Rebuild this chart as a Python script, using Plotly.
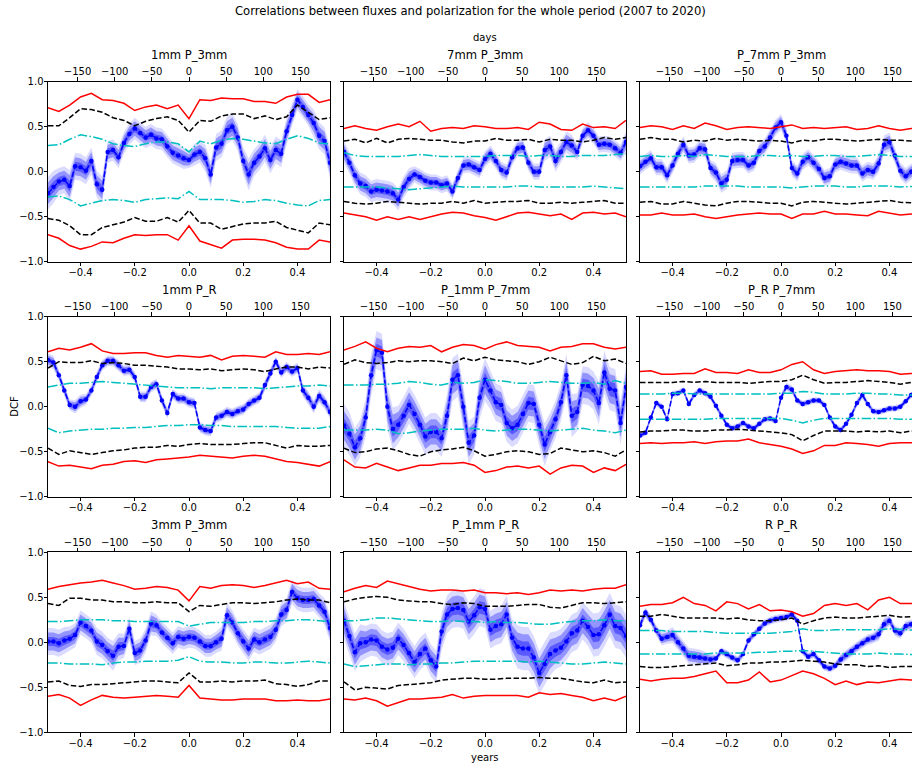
import plotly.graph_objects as go

# panel titles (row by row)
titles = ['1mm P_3mm', '7mm P_3mm', 'P_7mm P_3mm',
          '1mm P_R', 'P_1mm P_7mm', 'P_R P_7mm',
          '3mm P_3mm', 'P_1mm P_R', 'R P_R']

# time lags in years
lags = [-0.52, -0.50, -0.48, -0.46, -0.44, -0.42, -0.40, -0.38, -0.36, -0.34,
        -0.32, -0.30, -0.28, -0.26, -0.24, -0.22, -0.20, -0.18, -0.16, -0.14,
        -0.12, -0.10, -0.08, -0.06, -0.04, -0.02, 0.00, 0.02, 0.04, 0.06,
        0.08, 0.10, 0.12, 0.14, 0.16, 0.18, 0.20, 0.22, 0.24, 0.26,
        0.28, 0.30, 0.32, 0.34, 0.36, 0.38, 0.40, 0.42, 0.44, 0.46,
        0.48, 0.50, 0.52]
sig_lags = [-0.52, -0.48, -0.44, -0.40, -0.36, -0.32, -0.28, -0.24, -0.20, -0.16,
            -0.12, -0.08, -0.04, 0.00, 0.04, 0.08, 0.12, 0.16, 0.20, 0.24,
            0.28, 0.32, 0.36, 0.40, 0.44, 0.48, 0.52]

# ---- 1mm P_3mm
p1_dcf = [-0.24, -0.17, -0.11, -0.09, -0.16, 0.06, 0.05, 0.01, 0.12, -0.14,
          -0.20, 0.22, 0.24, 0.16, 0.32, 0.42, 0.48, 0.43, 0.38, 0.41,
          0.37, 0.36, 0.28, 0.21, 0.18, 0.15, 0.13, 0.19, 0.22, 0.15,
          -0.03, 0.27, 0.31, 0.46, 0.50, 0.38, 0.12, -0.03, 0.10, 0.17,
          0.26, 0.13, 0.24, 0.20, 0.45, 0.63, 0.80, 0.72, 0.63, 0.54,
          0.40, 0.34, 0.10]
p1_err = [0.06, 0.06, 0.05, 0.05, 0.06, 0.05, 0.05, 0.05, 0.05, 0.05,
          0.05, 0.04, 0.04, 0.04, 0.04, 0.04, 0.04, 0.04, 0.04, 0.04,
          0.04, 0.04, 0.04, 0.04, 0.04, 0.04, 0.03, 0.04, 0.04, 0.05,
          0.05, 0.05, 0.05, 0.05, 0.05, 0.05, 0.05, 0.06, 0.05, 0.05,
          0.05, 0.05, 0.05, 0.05, 0.05, 0.04, 0.04, 0.04, 0.04, 0.05,
          0.05, 0.05, 0.06]
p1_red_hi = [0.71, 0.67, 0.74, 0.83, 0.87, 0.80, 0.79, 0.76, 0.68, 0.72, 0.74, 0.70, 0.74, 0.59,
             0.80, 0.79, 0.82, 0.81, 0.81, 0.78, 0.78, 0.76, 0.83, 0.86, 0.86, 0.77, 0.80]
p1_blk_hi = [0.51, 0.51, 0.60, 0.70, 0.69, 0.66, 0.60, 0.57, 0.51, 0.56, 0.59, 0.61, 0.57, 0.44,
             0.57, 0.56, 0.62, 0.64, 0.64, 0.59, 0.62, 0.58, 0.61, 0.74, 0.66, 0.58, 0.60]
p1_cyn_hi = [0.29, 0.30, 0.36, 0.41, 0.39, 0.36, 0.31, 0.29, 0.28, 0.31, 0.33, 0.33, 0.31, 0.22,
             0.34, 0.31, 0.35, 0.37, 0.36, 0.34, 0.32, 0.31, 0.36, 0.40, 0.37, 0.32, 0.31]
p1_cyn_lo = [-0.28, -0.27, -0.31, -0.38, -0.35, -0.32, -0.31, -0.32, -0.34, -0.31, -0.30, -0.29, -0.30, -0.22,
             -0.31, -0.31, -0.31, -0.32, -0.34, -0.33, -0.31, -0.32, -0.35, -0.37, -0.38, -0.32, -0.31]
p1_blk_lo = [-0.52, -0.54, -0.60, -0.70, -0.70, -0.62, -0.59, -0.56, -0.51, -0.55, -0.55, -0.51, -0.56, -0.43,
             -0.57, -0.57, -0.64, -0.61, -0.58, -0.57, -0.57, -0.55, -0.62, -0.65, -0.68, -0.57, -0.59]
p1_red_lo = [-0.70, -0.74, -0.82, -0.86, -0.83, -0.78, -0.79, -0.74, -0.70, -0.71, -0.70, -0.70, -0.76, -0.60,
             -0.77, -0.81, -0.85, -0.76, -0.75, -0.75, -0.76, -0.79, -0.84, -0.86, -0.86, -0.76, -0.78]

# ---- 7mm P_3mm
p2_dcf = [0.22, 0.10, -0.04, -0.13, -0.16, -0.22, -0.20, -0.21, -0.22, -0.24,
          -0.31, -0.17, -0.08, -0.03, -0.06, -0.10, -0.12, -0.12, -0.15, -0.13,
          -0.22, -0.07, 0.07, 0.08, 0.05, 0.02, 0.14, 0.20, 0.12, 0.02,
          -0.01, 0.16, 0.26, 0.27, 0.10, 0.00, 0.00, 0.24, 0.28, 0.12,
          0.22, 0.33, 0.29, 0.22, 0.40, 0.46, 0.40, 0.30, 0.31, 0.30,
          0.26, 0.21, 0.33]
p2_err = [0.04, 0.04, 0.04, 0.04, 0.04, 0.04, 0.04, 0.04, 0.04, 0.04,
          0.04, 0.04, 0.04, 0.03, 0.03, 0.03, 0.03, 0.03, 0.03, 0.03,
          0.03, 0.03, 0.03, 0.03, 0.03, 0.03, 0.03, 0.03, 0.03, 0.03,
          0.03, 0.03, 0.03, 0.03, 0.03, 0.03, 0.03, 0.04, 0.04, 0.04,
          0.04, 0.04, 0.04, 0.03, 0.03, 0.03, 0.03, 0.03, 0.03, 0.03,
          0.03, 0.03, 0.04]
p2_red_hi = [0.48, 0.51, 0.48, 0.46, 0.50, 0.53, 0.50, 0.56, 0.45, 0.48, 0.49, 0.48, 0.51, 0.50,
             0.48, 0.48, 0.49, 0.47, 0.55, 0.53, 0.47, 0.46, 0.53, 0.49, 0.50, 0.48, 0.57]
p2_blk_hi = [0.34, 0.36, 0.32, 0.37, 0.32, 0.36, 0.37, 0.36, 0.35, 0.35, 0.33, 0.32, 0.34, 0.34,
             0.37, 0.35, 0.35, 0.36, 0.33, 0.36, 0.35, 0.35, 0.33, 0.35, 0.38, 0.36, 0.38]
p2_cyn_hi = [0.21, 0.18, 0.17, 0.17, 0.17, 0.17, 0.18, 0.19, 0.18, 0.17, 0.17, 0.17, 0.17, 0.17,
             0.18, 0.18, 0.18, 0.17, 0.18, 0.18, 0.17, 0.17, 0.18, 0.18, 0.18, 0.19, 0.20]
p2_cyn_lo = [-0.17, -0.17, -0.17, -0.17, -0.18, -0.19, -0.20, -0.19, -0.18, -0.17, -0.16, -0.17, -0.17, -0.17,
             -0.17, -0.17, -0.16, -0.16, -0.17, -0.17, -0.17, -0.17, -0.17, -0.16, -0.17, -0.18, -0.19]
p2_blk_lo = [-0.33, -0.35, -0.36, -0.35, -0.33, -0.34, -0.35, -0.36, -0.35, -0.35, -0.33, -0.35, -0.32, -0.35,
             -0.34, -0.33, -0.33, -0.32, -0.35, -0.35, -0.34, -0.35, -0.34, -0.33, -0.32, -0.35, -0.35]
p2_red_lo = [-0.46, -0.48, -0.50, -0.54, -0.50, -0.53, -0.50, -0.53, -0.50, -0.47, -0.45, -0.46, -0.49, -0.51,
             -0.54, -0.50, -0.46, -0.45, -0.47, -0.49, -0.47, -0.53, -0.46, -0.45, -0.47, -0.46, -0.50]

# ---- P_7mm P_3mm
p3_dcf = [0.06, 0.11, 0.15, 0.05, 0.05, -0.04, 0.07, 0.20, 0.30, 0.18,
          0.19, 0.26, 0.25, 0.04, -0.01, -0.13, -0.09, 0.12, 0.13, 0.13,
          0.07, 0.10, 0.23, 0.28, 0.38, 0.49, 0.55, 0.40, 0.04, -0.02,
          0.11, 0.16, 0.10, 0.03, -0.07, -0.05, 0.08, 0.11, 0.09, 0.07,
          0.07, -0.02, 0.02, 0.00, 0.09, 0.30, 0.33, 0.18, 0.01, -0.05,
          0.00, 0.02, 0.05]
p3_err = [0.03, 0.03, 0.03, 0.03, 0.03, 0.03, 0.03, 0.03, 0.03, 0.03,
          0.03, 0.03, 0.03, 0.03, 0.035, 0.035, 0.035, 0.03, 0.03, 0.03,
          0.03, 0.03, 0.03, 0.03, 0.03, 0.03, 0.03, 0.03, 0.03, 0.03,
          0.03, 0.03, 0.03, 0.03, 0.03, 0.03, 0.03, 0.03, 0.03, 0.03,
          0.03, 0.03, 0.03, 0.03, 0.035, 0.035, 0.035, 0.03, 0.03, 0.03,
          0.03, 0.03, 0.03]
p3_red_hi = [0.49, 0.51, 0.50, 0.47, 0.51, 0.48, 0.54, 0.51, 0.47, 0.49, 0.50, 0.49, 0.48, 0.50,
             0.52, 0.48, 0.49, 0.48, 0.49, 0.50, 0.47, 0.48, 0.51, 0.48, 0.46, 0.48, 0.48]
p3_blk_hi = [0.36, 0.38, 0.36, 0.36, 0.33, 0.35, 0.34, 0.37, 0.35, 0.36, 0.35, 0.34, 0.35, 0.34,
             0.32, 0.35, 0.34, 0.36, 0.36, 0.35, 0.34, 0.35, 0.36, 0.35, 0.35, 0.34, 0.34]
p3_cyn_hi = [0.17, 0.18, 0.17, 0.17, 0.18, 0.17, 0.19, 0.18, 0.17, 0.17, 0.17, 0.18, 0.18, 0.17,
             0.18, 0.17, 0.17, 0.18, 0.18, 0.17, 0.17, 0.18, 0.19, 0.18, 0.17, 0.17, 0.17]
p3_cyn_lo = [-0.17, -0.17, -0.17, -0.17, -0.17, -0.17, -0.16, -0.16, -0.16, -0.16, -0.17, -0.17, -0.17, -0.17,
             -0.18, -0.17, -0.16, -0.16, -0.16, -0.17, -0.17, -0.16, -0.16, -0.16, -0.17, -0.16, -0.16]
p3_blk_lo = [-0.34, -0.33, -0.36, -0.36, -0.33, -0.35, -0.37, -0.38, -0.35, -0.33, -0.33, -0.34, -0.35, -0.35,
             -0.38, -0.34, -0.33, -0.34, -0.35, -0.36, -0.35, -0.34, -0.33, -0.32, -0.34, -0.35, -0.35]
p3_red_lo = [-0.48, -0.48, -0.46, -0.48, -0.48, -0.47, -0.50, -0.52, -0.50, -0.48, -0.47, -0.46, -0.47, -0.47,
             -0.52, -0.47, -0.47, -0.44, -0.47, -0.47, -0.48, -0.49, -0.44, -0.46, -0.48, -0.47, -0.48]

# ---- 1mm P_R
p4_dcf = [0.52, 0.49, 0.35, 0.18, 0.02, 0.00, 0.06, 0.08, 0.18, 0.33,
          0.46, 0.51, 0.51, 0.46, 0.40, 0.41, 0.33, 0.11, 0.11, 0.22,
          0.25, 0.07, -0.07, 0.14, 0.09, 0.09, 0.05, 0.04, -0.23, -0.26,
          -0.27, -0.12, -0.10, -0.06, -0.08, -0.05, -0.03, 0.03, 0.07, 0.10,
          0.24, 0.37, 0.50, 0.38, 0.44, 0.39, 0.43, 0.18, 0.10, 0.00,
          0.12, 0.05, -0.06]
p4_err = [0.025, 0.025, 0.02, 0.02, 0.02, 0.025, 0.025, 0.02, 0.02, 0.02,
          0.02, 0.02, 0.02, 0.02, 0.02, 0.02, 0.02, 0.02, 0.02, 0.02,
          0.02, 0.02, 0.02, 0.02, 0.02, 0.02, 0.02, 0.02, 0.02, 0.02,
          0.02, 0.02, 0.02, 0.02, 0.02, 0.02, 0.02, 0.02, 0.02, 0.02,
          0.02, 0.02, 0.02, 0.02, 0.02, 0.02, 0.02, 0.025, 0.025, 0.025,
          0.025, 0.025, 0.025]
p4_red_hi = [0.61, 0.65, 0.63, 0.66, 0.70, 0.62, 0.59, 0.59, 0.60, 0.60, 0.57, 0.55, 0.57, 0.56,
             0.55, 0.57, 0.52, 0.56, 0.57, 0.56, 0.55, 0.61, 0.58, 0.58, 0.59, 0.58, 0.61]
p4_blk_hi = [0.43, 0.50, 0.49, 0.49, 0.51, 0.48, 0.49, 0.48, 0.46, 0.46, 0.45, 0.44, 0.42, 0.42,
             0.41, 0.42, 0.40, 0.41, 0.42, 0.41, 0.39, 0.42, 0.44, 0.44, 0.42, 0.44, 0.43]
p4_cyn_hi = [0.22, 0.24, 0.26, 0.26, 0.27, 0.28, 0.27, 0.26, 0.25, 0.24, 0.23, 0.22, 0.21, 0.21,
             0.21, 0.20, 0.21, 0.21, 0.21, 0.21, 0.20, 0.21, 0.22, 0.23, 0.23, 0.24, 0.23]
p4_cyn_lo = [-0.24, -0.29, -0.27, -0.26, -0.25, -0.25, -0.24, -0.24, -0.23, -0.23, -0.22, -0.21, -0.21, -0.20,
             -0.20, -0.21, -0.21, -0.22, -0.22, -0.22, -0.22, -0.22, -0.23, -0.24, -0.24, -0.24, -0.22]
p4_blk_lo = [-0.46, -0.53, -0.49, -0.51, -0.53, -0.51, -0.49, -0.48, -0.46, -0.45, -0.45, -0.43, -0.44, -0.42,
             -0.41, -0.42, -0.42, -0.42, -0.41, -0.40, -0.40, -0.43, -0.46, -0.43, -0.44, -0.44, -0.43]
p4_red_lo = [-0.61, -0.66, -0.65, -0.67, -0.69, -0.65, -0.64, -0.61, -0.60, -0.62, -0.59, -0.58, -0.57, -0.56,
             -0.54, -0.55, -0.56, -0.57, -0.55, -0.54, -0.55, -0.58, -0.61, -0.62, -0.64, -0.66, -0.61]

# ---- P_1mm P_7mm
p5_dcf = [-0.21, -0.30, -0.45, -0.35, -0.12, 0.35, 0.63, 0.60, 0.00, -0.25,
          -0.20, -0.10, 0.02, -0.08, -0.20, -0.33, -0.28, -0.28, -0.35, -0.10,
          0.30, 0.35, 0.00, -0.40, -0.32, 0.10, 0.30, 0.18, 0.05, 0.02,
          -0.18, -0.24, -0.20, -0.08, 0.04, 0.03, -0.20, -0.42, -0.28, -0.14,
          0.05, 0.35, -0.10, -0.06, 0.24, 0.23, 0.18, 0.04, 0.38, 0.20,
          0.18, -0.18, 0.22]
p5_err = [0.08, 0.08, 0.07, 0.07, 0.07, 0.08, 0.07, 0.07, 0.08, 0.08,
          0.07, 0.07, 0.07, 0.07, 0.07, 0.07, 0.07, 0.07, 0.07, 0.08,
          0.08, 0.08, 0.08, 0.08, 0.07, 0.08, 0.08, 0.07, 0.07, 0.07,
          0.07, 0.07, 0.07, 0.07, 0.07, 0.07, 0.08, 0.08, 0.07, 0.07,
          0.07, 0.08, 0.08, 0.07, 0.07, 0.07, 0.07, 0.08, 0.08, 0.08,
          0.08, 0.08, 0.08]
p5_red_hi = [0.63, 0.67, 0.72, 0.65, 0.61, 0.65, 0.67, 0.66, 0.68, 0.61, 0.66, 0.69, 0.68, 0.64,
             0.69, 0.72, 0.68, 0.67, 0.66, 0.62, 0.66, 0.67, 0.70, 0.70, 0.66, 0.64, 0.66]
p5_blk_hi = [0.47, 0.52, 0.49, 0.48, 0.49, 0.51, 0.50, 0.51, 0.51, 0.50, 0.48, 0.54, 0.51, 0.55,
             0.52, 0.51, 0.50, 0.47, 0.50, 0.55, 0.51, 0.47, 0.49, 0.56, 0.51, 0.53, 0.48]
p5_cyn_hi = [0.24, 0.24, 0.24, 0.25, 0.25, 0.26, 0.28, 0.27, 0.25, 0.24, 0.27, 0.26, 0.27, 0.30,
             0.29, 0.28, 0.26, 0.26, 0.27, 0.28, 0.27, 0.26, 0.26, 0.27, 0.25, 0.29, 0.26]
p5_cyn_lo = [-0.26, -0.26, -0.26, -0.25, -0.26, -0.30, -0.29, -0.27, -0.26, -0.25, -0.25, -0.25, -0.24, -0.26,
             -0.27, -0.26, -0.25, -0.25, -0.26, -0.27, -0.26, -0.25, -0.24, -0.26, -0.27, -0.29, -0.26]
p5_blk_lo = [-0.46, -0.51, -0.50, -0.47, -0.46, -0.49, -0.53, -0.55, -0.50, -0.48, -0.47, -0.45, -0.49, -0.55,
             -0.53, -0.50, -0.49, -0.50, -0.53, -0.52, -0.46, -0.48, -0.50, -0.49, -0.51, -0.55, -0.48]
p5_red_lo = [-0.59, -0.67, -0.68, -0.63, -0.67, -0.71, -0.68, -0.65, -0.65, -0.63, -0.63, -0.62, -0.65, -0.73,
             -0.71, -0.67, -0.66, -0.68, -0.66, -0.75, -0.68, -0.65, -0.66, -0.73, -0.68, -0.71, -0.64]

# ---- P_R P_7mm
p6_dcf = [-0.32, -0.29, -0.12, 0.04, 0.00, -0.14, 0.14, 0.15, 0.18, 0.03,
          0.13, 0.18, 0.15, 0.11, 0.01, -0.10, -0.20, -0.24, -0.22, -0.18,
          -0.22, -0.24, -0.19, -0.14, -0.13, -0.16, 0.10, 0.22, 0.19, 0.07,
          0.03, 0.05, 0.07, 0.07, 0.02, -0.12, -0.22, -0.26, -0.19, -0.09,
          0.04, 0.13, 0.03, -0.05, -0.06, -0.04, -0.02, -0.02, 0.00, 0.06,
          0.13, 0.14, 0.15]
p6_err = [0.012, 0.012, 0.012, 0.012, 0.012, 0.012, 0.012, 0.012, 0.012, 0.012,
          0.012, 0.012, 0.012, 0.012, 0.012, 0.012, 0.012, 0.012, 0.012, 0.012,
          0.012, 0.012, 0.012, 0.012, 0.012, 0.012, 0.015, 0.015, 0.015, 0.012,
          0.012, 0.012, 0.012, 0.012, 0.012, 0.012, 0.012, 0.012, 0.012, 0.012,
          0.015, 0.015, 0.012, 0.012, 0.012, 0.012, 0.012, 0.012, 0.012, 0.012,
          0.012, 0.012, 0.012]
p6_red_hi = [0.39, 0.40, 0.36, 0.36, 0.37, 0.37, 0.42, 0.38, 0.38, 0.37, 0.41, 0.38, 0.38, 0.41,
             0.47, 0.50, 0.41, 0.37, 0.39, 0.40, 0.41, 0.40, 0.40, 0.39, 0.36, 0.37, 0.37]
p6_blk_hi = [0.27, 0.27, 0.27, 0.27, 0.28, 0.27, 0.28, 0.27, 0.27, 0.27, 0.26, 0.27, 0.28, 0.28,
             0.30, 0.35, 0.30, 0.26, 0.27, 0.27, 0.28, 0.29, 0.28, 0.27, 0.25, 0.27, 0.27]
p6_cyn_hi = [0.14, 0.14, 0.14, 0.15, 0.15, 0.14, 0.14, 0.14, 0.14, 0.14, 0.14, 0.14, 0.14, 0.15,
             0.15, 0.17, 0.16, 0.14, 0.14, 0.14, 0.15, 0.15, 0.14, 0.14, 0.13, 0.13, 0.13]
p6_cyn_lo = [-0.14, -0.14, -0.14, -0.14, -0.14, -0.14, -0.14, -0.13, -0.13, -0.13, -0.13, -0.13, -0.13, -0.13,
             -0.15, -0.18, -0.15, -0.13, -0.13, -0.13, -0.13, -0.13, -0.13, -0.13, -0.14, -0.14, -0.14]
p6_blk_lo = [-0.28, -0.27, -0.27, -0.26, -0.26, -0.27, -0.27, -0.26, -0.26, -0.25, -0.26, -0.27, -0.28, -0.29,
             -0.31, -0.38, -0.32, -0.27, -0.27, -0.27, -0.28, -0.27, -0.28, -0.27, -0.29, -0.27, -0.27]
p6_red_lo = [-0.41, -0.40, -0.41, -0.40, -0.40, -0.39, -0.41, -0.39, -0.38, -0.38, -0.36, -0.40, -0.42, -0.44,
             -0.47, -0.52, -0.49, -0.43, -0.43, -0.40, -0.41, -0.42, -0.44, -0.41, -0.40, -0.40, -0.40]

# ---- 3mm P_3mm
p7_dcf = [0.01, 0.01, -0.01, 0.02, 0.04, 0.08, 0.22, 0.18, 0.13, 0.01,
          -0.03, -0.10, -0.15, -0.05, -0.04, 0.15, -0.12, -0.09, 0.02, 0.21,
          0.19, 0.11, 0.05, -0.01, 0.06, 0.04, 0.06, 0.05, 0.01, -0.04,
          -0.04, 0.00, 0.04, 0.30, 0.22, 0.10, 0.01, -0.07, 0.03, 0.00,
          0.03, 0.06, 0.14, 0.31, 0.36, 0.56, 0.49, 0.47, 0.47, 0.48,
          0.41, 0.34, 0.16]
p7_err = [0.05, 0.05, 0.05, 0.05, 0.045, 0.045, 0.045, 0.045, 0.045, 0.05,
          0.05, 0.05, 0.055, 0.05, 0.045, 0.045, 0.045, 0.045, 0.045, 0.045,
          0.04, 0.04, 0.04, 0.04, 0.04, 0.04, 0.04, 0.04, 0.04, 0.04,
          0.04, 0.04, 0.045, 0.045, 0.045, 0.045, 0.045, 0.045, 0.045, 0.045,
          0.045, 0.045, 0.045, 0.045, 0.045, 0.045, 0.045, 0.045, 0.045, 0.045,
          0.045, 0.05, 0.05]
p7_red_hi = [0.59, 0.62, 0.64, 0.66, 0.67, 0.69, 0.66, 0.63, 0.59, 0.60, 0.62, 0.61, 0.58, 0.46,
             0.62, 0.60, 0.63, 0.64, 0.63, 0.61, 0.63, 0.66, 0.69, 0.65, 0.67, 0.60, 0.59]
p7_blk_hi = [0.43, 0.41, 0.49, 0.49, 0.47, 0.47, 0.45, 0.45, 0.44, 0.44, 0.45, 0.44, 0.44, 0.34,
             0.41, 0.40, 0.42, 0.44, 0.44, 0.43, 0.44, 0.45, 0.47, 0.48, 0.47, 0.47, 0.44]
p7_cyn_hi = [0.23, 0.23, 0.24, 0.25, 0.25, 0.25, 0.24, 0.24, 0.23, 0.23, 0.23, 0.23, 0.23, 0.18,
             0.20, 0.22, 0.22, 0.22, 0.22, 0.23, 0.23, 0.24, 0.24, 0.25, 0.25, 0.24, 0.23]
p7_cyn_lo = [-0.23, -0.23, -0.24, -0.24, -0.24, -0.25, -0.23, -0.22, -0.22, -0.21, -0.21, -0.21, -0.20, -0.16,
             -0.21, -0.22, -0.22, -0.23, -0.23, -0.22, -0.22, -0.23, -0.23, -0.22, -0.21, -0.22, -0.23]
p7_blk_lo = [-0.44, -0.43, -0.48, -0.49, -0.47, -0.47, -0.46, -0.45, -0.44, -0.43, -0.43, -0.44, -0.45, -0.34,
             -0.44, -0.44, -0.43, -0.44, -0.43, -0.43, -0.42, -0.46, -0.47, -0.49, -0.47, -0.43, -0.43]
p7_red_lo = [-0.60, -0.58, -0.62, -0.70, -0.64, -0.59, -0.61, -0.62, -0.61, -0.60, -0.59, -0.60, -0.61, -0.48,
             -0.62, -0.63, -0.64, -0.64, -0.63, -0.63, -0.63, -0.65, -0.65, -0.64, -0.65, -0.65, -0.63]

# ---- P_1mm P_R
p8_dcf = [0.24, 0.07, -0.11, -0.01, 0.00, 0.03, 0.02, -0.05, -0.08, -0.06,
          0.04, -0.03, -0.12, -0.22, -0.13, -0.07, -0.20, -0.27, 0.12, 0.31,
          0.37, 0.38, 0.36, 0.23, 0.30, 0.39, 0.37, 0.14, 0.18, 0.20,
          0.31, 0.05, -0.05, -0.07, -0.07, -0.17, -0.34, -0.24, -0.13, -0.09,
          -0.06, 0.01, 0.10, 0.13, 0.24, 0.17, 0.08, 0.09, 0.19, 0.31,
          0.18, 0.16, 0.07]
p8_err = [0.07, 0.07, 0.07, 0.07, 0.06, 0.06, 0.06, 0.06, 0.06, 0.06,
          0.06, 0.06, 0.06, 0.06, 0.06, 0.06, 0.06, 0.06, 0.07, 0.07,
          0.07, 0.07, 0.07, 0.07, 0.07, 0.07, 0.07, 0.07, 0.07, 0.07,
          0.07, 0.07, 0.08, 0.08, 0.08, 0.08, 0.08, 0.08, 0.08, 0.07,
          0.07, 0.07, 0.07, 0.07, 0.07, 0.07, 0.08, 0.08, 0.08, 0.08,
          0.08, 0.08, 0.08]
p8_red_hi = [0.56, 0.60, 0.63, 0.61, 0.68, 0.65, 0.62, 0.59, 0.57, 0.58, 0.58, 0.57, 0.58, 0.55,
             0.55, 0.54, 0.55, 0.53, 0.55, 0.58, 0.57, 0.58, 0.57, 0.59, 0.60, 0.60, 0.64]
p8_blk_hi = [0.45, 0.48, 0.50, 0.51, 0.50, 0.47, 0.46, 0.45, 0.45, 0.43, 0.42, 0.44, 0.43, 0.40,
             0.40, 0.40, 0.41, 0.42, 0.42, 0.39, 0.38, 0.41, 0.44, 0.44, 0.43, 0.44, 0.45]
p8_cyn_hi = [0.24, 0.24, 0.25, 0.27, 0.27, 0.26, 0.25, 0.24, 0.23, 0.23, 0.24, 0.23, 0.23, 0.22,
             0.23, 0.22, 0.22, 0.21, 0.20, 0.20, 0.22, 0.23, 0.24, 0.24, 0.25, 0.24, 0.24]
p8_cyn_lo = [-0.24, -0.27, -0.26, -0.25, -0.24, -0.24, -0.25, -0.24, -0.24, -0.23, -0.23, -0.22, -0.21, -0.21,
             -0.21, -0.21, -0.21, -0.22, -0.21, -0.22, -0.23, -0.24, -0.24, -0.23, -0.22, -0.23, -0.24]
p8_blk_lo = [-0.44, -0.53, -0.50, -0.51, -0.52, -0.48, -0.47, -0.46, -0.45, -0.42, -0.41, -0.40, -0.40, -0.41,
             -0.41, -0.40, -0.40, -0.40, -0.39, -0.40, -0.40, -0.42, -0.44, -0.45, -0.42, -0.45, -0.44]
p8_red_lo = [-0.63, -0.64, -0.62, -0.65, -0.71, -0.67, -0.63, -0.63, -0.62, -0.61, -0.58, -0.62, -0.60, -0.59,
             -0.59, -0.59, -0.59, -0.61, -0.56, -0.58, -0.57, -0.59, -0.61, -0.65, -0.62, -0.65, -0.60]

# ---- R P_R
p9_dcf = [0.19, 0.33, 0.25, 0.13, 0.04, 0.06, 0.08, 0.00, -0.07, -0.15,
          -0.16, -0.17, -0.18, -0.19, -0.18, -0.10, -0.13, -0.17, -0.20, -0.13,
          0.02, 0.09, 0.15, 0.21, 0.24, 0.26, 0.27, 0.28, 0.31, 0.24,
          -0.10, -0.16, -0.13, -0.20, -0.27, -0.29, -0.26, -0.19, -0.14, -0.10,
          -0.05, -0.01, 0.03, 0.05, 0.09, 0.20, 0.24, 0.13, 0.10, 0.18,
          0.20, 0.21, 0.22]
p9_err = [0.02, 0.02, 0.02, 0.02, 0.025, 0.025, 0.03, 0.03, 0.03, 0.03,
          0.03, 0.03, 0.025, 0.02, 0.015, 0.015, 0.015, 0.015, 0.015, 0.015,
          0.015, 0.015, 0.015, 0.015, 0.015, 0.015, 0.015, 0.015, 0.015, 0.015,
          0.015, 0.015, 0.015, 0.015, 0.015, 0.015, 0.015, 0.02, 0.02, 0.02,
          0.02, 0.02, 0.02, 0.02, 0.025, 0.025, 0.02, 0.02, 0.02, 0.02,
          0.02, 0.02, 0.02]
p9_red_hi = [0.40, 0.42, 0.42, 0.44, 0.50, 0.43, 0.41, 0.35, 0.45, 0.43, 0.37, 0.42, 0.35, 0.36,
             0.34, 0.29, 0.32, 0.41, 0.43, 0.41, 0.43, 0.36, 0.47, 0.50, 0.43, 0.43, 0.43]
p9_blk_hi = [0.29, 0.29, 0.31, 0.29, 0.27, 0.27, 0.27, 0.27, 0.26, 0.27, 0.25, 0.24, 0.24, 0.25,
             0.27, 0.20, 0.24, 0.27, 0.28, 0.27, 0.27, 0.28, 0.29, 0.30, 0.28, 0.29, 0.29]
p9_cyn_hi = [0.13, 0.13, 0.13, 0.12, 0.12, 0.12, 0.12, 0.11, 0.10, 0.10, 0.10, 0.10, 0.10, 0.11,
             0.12, 0.15, 0.13, 0.13, 0.14, 0.14, 0.14, 0.14, 0.14, 0.15, 0.14, 0.13, 0.13]
p9_cyn_lo = [-0.13, -0.13, -0.13, -0.13, -0.13, -0.13, -0.13, -0.12, -0.12, -0.12, -0.12, -0.11, -0.11, -0.10,
             -0.10, -0.09, -0.10, -0.11, -0.12, -0.13, -0.13, -0.13, -0.12, -0.13, -0.13, -0.14, -0.14]
p9_blk_lo = [-0.27, -0.28, -0.28, -0.27, -0.26, -0.25, -0.24, -0.23, -0.26, -0.25, -0.23, -0.23, -0.22, -0.22,
             -0.21, -0.20, -0.21, -0.22, -0.24, -0.25, -0.25, -0.27, -0.26, -0.28, -0.27, -0.27, -0.27]
p9_red_lo = [-0.41, -0.43, -0.41, -0.40, -0.40, -0.38, -0.35, -0.32, -0.45, -0.45, -0.42, -0.33, -0.44, -0.42,
             -0.37, -0.32, -0.35, -0.40, -0.47, -0.43, -0.47, -0.44, -0.45, -0.43, -0.41, -0.42, -0.42]

panels = [
    (p1_dcf, p1_err, p1_red_hi, p1_blk_hi, p1_cyn_hi, p1_cyn_lo, p1_blk_lo, p1_red_lo),
    (p2_dcf, p2_err, p2_red_hi, p2_blk_hi, p2_cyn_hi, p2_cyn_lo, p2_blk_lo, p2_red_lo),
    (p3_dcf, p3_err, p3_red_hi, p3_blk_hi, p3_cyn_hi, p3_cyn_lo, p3_blk_lo, p3_red_lo),
    (p4_dcf, p4_err, p4_red_hi, p4_blk_hi, p4_cyn_hi, p4_cyn_lo, p4_blk_lo, p4_red_lo),
    (p5_dcf, p5_err, p5_red_hi, p5_blk_hi, p5_cyn_hi, p5_cyn_lo, p5_blk_lo, p5_red_lo),
    (p6_dcf, p6_err, p6_red_hi, p6_blk_hi, p6_cyn_hi, p6_cyn_lo, p6_blk_lo, p6_red_lo),
    (p7_dcf, p7_err, p7_red_hi, p7_blk_hi, p7_cyn_hi, p7_cyn_lo, p7_blk_lo, p7_red_lo),
    (p8_dcf, p8_err, p8_red_hi, p8_blk_hi, p8_cyn_hi, p8_cyn_lo, p8_blk_lo, p8_red_lo),
    (p9_dcf, p9_err, p9_red_hi, p9_blk_hi, p9_cyn_hi, p9_cyn_lo, p9_blk_lo, p9_red_lo),
]

# page geometry in pixels (the plot div is pinned to the top left corner)
W, H = 912, 767
col_px = [(48, 330), (344, 626), (640, 922)]
row_px = [(81.7, 261.7), (316.7, 496.7), (552.3, 732.3)]
x_lo, x_hi = -0.52, 0.52
FONT = 'DejaVu Sans'


def px_x(px):
    return px / W


def px_y(py):
    return 1 - py / H


# line styles for significance levels (red / black dashed / cyan dash-dot)
sig_styles = [('red', 'solid'), ('black', '5.5px,2.4px'), ('#00bfbf', '9.6px,2.4px,1.5px,2.4px'),
              ('#00bfbf', '9.6px,2.4px,1.5px,2.4px'), ('black', '5.5px,2.4px'), ('red', 'solid')]
bands = [(3, 'rgba(0,0,255,0.14)'), (2, 'rgba(0,0,255,0.32)'), (1, 'rgba(0,0,255,0.40)')]

fig = go.Figure()
layout = {}
annotations = []

for i, (dcf, err, *sig) in enumerate(panels):
    r, c = divmod(i, 3)
    n = i + 1
    xs = 'x' if n == 1 else f'x{n}'
    ys = 'y' if n == 1 else f'y{n}'
    xt = f'x{n + 9}'

    # error bands
    for k, fillc in bands:
        up = [d + k * e for d, e in zip(dcf, err)]
        lo = [d - k * e for d, e in zip(dcf, err)]
        fig.add_trace(go.Scatter(x=lags + lags[::-1], y=up + lo[::-1], fill='toself',
                                 fillcolor=fillc, mode='lines', line=dict(width=0),
                                 xaxis=xs, yaxis=ys, hoverinfo='skip', showlegend=False))
    # DCF curve
    fig.add_trace(go.Scatter(x=lags, y=dcf, mode='lines+markers',
                             line=dict(color='blue', width=1.5, dash='5.5px,2.4px'),
                             marker=dict(color='blue', size=4.5),
                             xaxis=xs, yaxis=ys, showlegend=False))
    # significance levels
    for vals, (color, dash) in zip(sig, sig_styles):
        fig.add_trace(go.Scatter(x=sig_lags, y=vals, mode='lines',
                                 line=dict(color=color, width=1.5, dash=dash),
                                 xaxis=xs, yaxis=ys, showlegend=False))
    # empty trace to activate the top (days) axis
    fig.add_trace(go.Scatter(x=[], y=[], xaxis=xt, yaxis=ys, showlegend=False))

    x0, x1 = col_px[c]
    x1v = min(x1, W)
    xr = x_lo + (x_hi - x_lo) * (x1v - x0) / (x1 - x0)
    y0, y1 = row_px[r]

    common = dict(ticks='outside', ticklen=3.5, tickwidth=0.8, tickcolor='black',
                  showgrid=False, zeroline=False, showline=True, linecolor='black',
                  linewidth=1, ticklabelstandoff=-2, automargin=False,
                  tickfont=dict(family=FONT, size=10, color='black'))
    layout['xaxis' if n == 1 else f'xaxis{n}'] = dict(
        domain=[px_x(x0), px_x(x1v)], range=[x_lo, xr], anchor=ys, mirror=True,
        tickvals=[-0.4, -0.2, 0, 0.2, 0.4],
        ticktext=['\u22120.4', '\u22120.2', '0.0', '0.2', '0.4'], **common)
    layout[f'xaxis{n + 9}'] = dict(
        overlaying=xs, anchor=ys, side='top', range=[x_lo * 365, xr * 365],
        tickvals=[-150, -100, -50, 0, 50, 100, 150],
        ticktext=['\u2212150', '\u2212100', '\u221250', '0', '50', '100', '150'], **common)
    layout['yaxis' if n == 1 else f'yaxis{n}'] = dict(
        domain=[px_y(y1), px_y(y0)], range=[-1, 1], anchor=xs, mirror=True,
        tickvals=[-1, -0.5, 0, 0.5, 1],
        ticktext=['\u22121.0', '\u22120.5', '0.0', '0.5', '1.0'],
        showticklabels=(c == 0), **common)

    annotations.append(dict(text=titles[i], x=px_x((x0 + x1) / 2), y=px_y(y0 - 27),
                            xref='paper', yref='paper', showarrow=False,
                            xanchor='center', yanchor='middle',
                            font=dict(family=FONT, size=11.6, color='black')))

annotations += [
    dict(text='Correlations between fluxes and polarization for the whole period (2007 to 2020)',
         x=px_x(470.5), y=px_y(11), xref='paper', yref='paper', showarrow=False,
         xanchor='center', yanchor='middle', font=dict(family=FONT, size=11.6, color='black')),
    dict(text='days', x=px_x(485), y=px_y(37), xref='paper', yref='paper', showarrow=False,
         xanchor='center', yanchor='middle', font=dict(family=FONT, size=10, color='black')),
    dict(text='years', x=px_x(485), y=px_y(757), xref='paper', yref='paper', showarrow=False,
         xanchor='center', yanchor='middle', font=dict(family=FONT, size=10, color='black')),
    dict(text='DCF', x=px_x(15), y=px_y(406.7), xref='paper', yref='paper', showarrow=False,
         textangle=-90, xanchor='center', yanchor='middle',
         font=dict(family=FONT, size=10, color='black')),
]

fig.update_layout(**layout)
fig.update_layout(
    width=W, height=H,
    margin=dict(l=0, r=0, t=0, b=0, pad=0, autoexpand=False),
    plot_bgcolor='white', paper_bgcolor='white',
    font=dict(family=FONT, size=10, color='black'),
    annotations=annotations,
    showlegend=False,
)

# pin the plot to the window corner so pixel positions match the page
pin = ("document.body.style.margin='0px';"
       "var gd=document.getElementById('{plot_id}');"
       "gd.style.position='absolute';gd.style.left='0px';gd.style.top='0px';")
fig.write_html('out.html', post_script=pin, config={'displayModeBar': False})
